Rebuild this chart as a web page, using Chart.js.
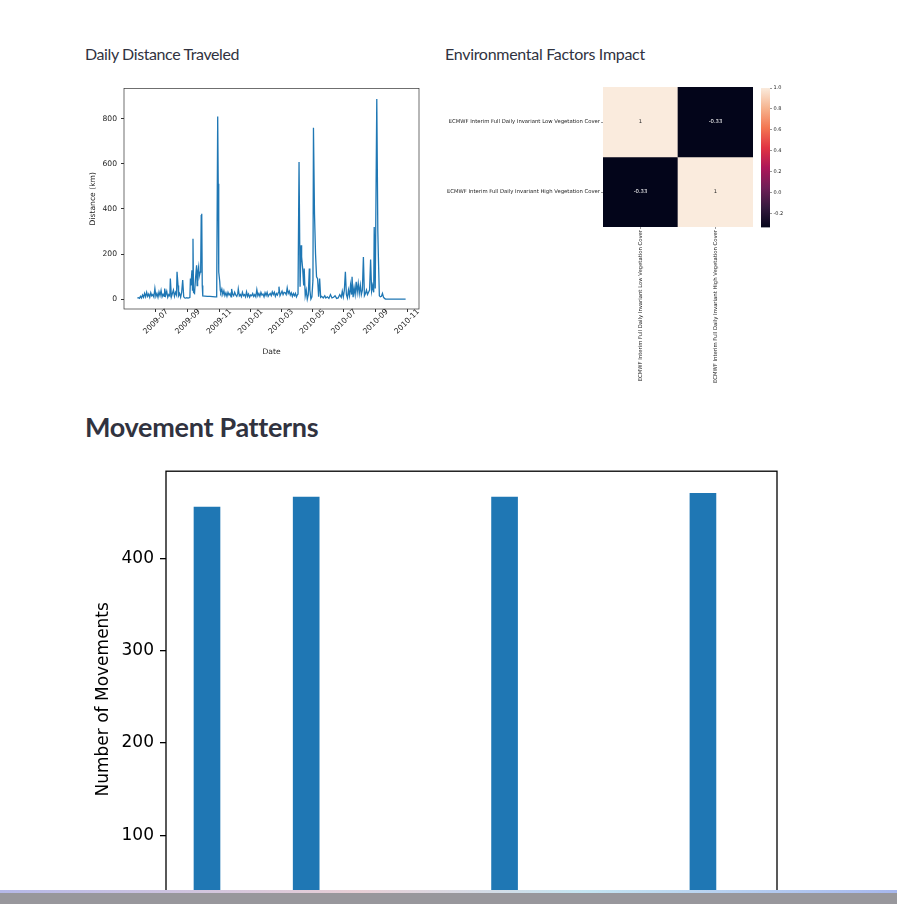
<!DOCTYPE html>
<html lang="en">

<head>
    <meta charset="UTF-8" />
    <meta name="viewport" content="width=device-width, initial-scale=1" />
    <title>Movement Dashboard</title>
    <script src="https://cdn.jsdelivr.net/npm/chart.js"></script>
    <style>
        html, body {
            margin: 0;
            height: 100%;
            overflow: hidden;
            background: #fff;
            font-family: Lato, 'Noto Sans', sans-serif;
            color: #31333F;
        }

        .sub {
            position: absolute;
            top: 44px;
            margin: 0;
            font-size: 16px;
            font-weight: 400;
        }

        #distTitle { left: 85px; letter-spacing: -0.4px; }
        #envTitle { left: 445px; letter-spacing: -0.3px; }

        h3 {
            position: absolute;
            left: 85px;
            top: 410px;
            margin: 0;
            font-size: 27px;
            font-weight: 700;
            letter-spacing: -0.3px;
        }

        .box { position: absolute; }
        #distBox { left: 80px; top: 80px; width: 350px; height: 290px; }
        #heatBox { left: 440px; top: 80px; width: 345px; height: 310px; }
        #cbarBox { left: 752px; top: 80px; width: 50px; height: 160px; }
        #moveBox { left: 85px; top: 455px; width: 730px; height: 520px; }

        #footer {
            position: fixed;
            left: 0;
            right: 0;
            bottom: 0;
            height: 14px;
            background: #98979c;
            z-index: 5;
        }

        #footer::before {
            content: '';
            position: absolute;
            top: 0;
            left: 0;
            right: 0;
            height: 3px;
            background: linear-gradient(90deg, #b5b8e8, #e8cfd6 40%, #c4e5f2 65%, #a7b7ee);
        }
    </style>
</head>

<body>
    <p class="sub" id="distTitle">Daily Distance Traveled</p>
    <p class="sub" id="envTitle">Environmental Factors Impact</p>
    <div class="box" id="distBox"><canvas id="distChart"></canvas></div>
    <div class="box" id="heatBox"><canvas id="heatChart"></canvas></div>
    <div class="box" id="cbarBox"><canvas id="cbarChart"></canvas></div>
    <h3>Movement Patterns</h3>
    <div class="box" id="moveBox"><canvas id="moveChart"></canvas></div>
    <div id="footer"></div>

    <script>
        // daily distance, days counted from 2009-07-01
        const distanceDays = [
            -36, -34, -32, -30, -28, -26, -24, -22, -20, -18, -16, -14, -12, -10, -8, -6, -4, -2,
            0, 2, 4, 6, 8, 10, 12, 14, 16, 17, 19, 21, 23, 25, 27, 28, 30, 32, 34, 36, 38, 40,
            41, 43, 44, 46, 48, 50, 52, 54, 56, 58, 60, 62, 64, 66, 67, 68, 70, 71, 72, 73, 75,
            77, 79, 80, 81, 83, 84, 86, 87, 88, 89, 90, 91, 95, 100, 105, 110, 115, 118,
            120, 121, 122, 124, 125, 126, 128, 130, 132, 134, 136, 138, 140, 142, 144, 146, 147,
            149, 151, 153, 155, 157, 159, 160, 162, 164, 166, 168, 170, 172, 174, 176, 178, 180,
            182, 184, 186, 188, 190, 192, 194, 196, 198, 200, 202, 204, 206, 208, 210, 212, 214,
            216, 218, 220, 222, 224, 226, 228, 230, 232, 234, 236, 238, 239, 241, 243, 245, 247,
            249, 251, 253, 255, 257, 259, 261, 263, 265, 267, 269, 271, 273, 275, 276, 278, 280,
            282, 283, 285, 287, 288, 290, 292, 294, 296, 298, 299, 301, 303, 305, 306, 308, 310,
            312, 314, 316, 318, 320, 322, 325, 328, 330, 333, 336, 339, 342, 345, 348, 351, 354,
            357, 360, 362, 364, 366, 368, 370, 372, 374, 376, 378, 380, 381, 383, 385, 387, 389,
            391, 393, 395, 397, 399, 401, 403, 405, 407, 409, 411, 413, 415, 417, 419, 421, 423,
            424, 426, 429, 431, 432, 434, 436, 438, 440, 442, 444, 446, 485
        ];
        const distanceKm = [
            4, 6, 3, 12, 5, 18, 8, 25, 10, 30, 12, 22, 8, 28, 14, 20, 9, 47,
            12, 25, 8, 32, 15, 38, 10, 22, 12, 47, 18, 35, 8, 20, 14, 91, 10, 25, 40, 12, 30, 18,
            121, 60, 15, 25, 8, 30, 84, 10, 5, 4, 6, 4, 5, 8, 91, 60, 128, 40, 268, 30, 25,
            95, 150, 60, 113, 143, 100, 120, 140, 370, 379, 60, 14, 13, 12, 12, 11, 10, 10,
            810, 512, 120, 77, 40, 30, 45, 20, 37, 15, 28, 12, 30, 18, 25, 10, 45,
            22, 15, 30, 18, 12, 25, 45, 14, 20, 10, 30, 15, 20, 10, 32, 12, 22,
            8, 18, 15, 25, 12, 20, 10, 42, 15, 25, 12, 30, 18, 22, 10, 28, 16,
            30, 12, 20, 25, 15, 32, 20, 30, 12, 25, 18, 30, 55, 15, 25, 35, 20,
            30, 28, 20, 50, 25, 35, 18, 28, 12, 25, 15, 25, 10, 20, 22, 608, 55,
            239, 187, 136, 60, 136, 15, 40, 0, 20, 136, 40, 0, 10, 84, 760, 379, 202,
            99, 91, 10, 91, 8, 12, 5, 15, 5, 10, 3, 20, 5, 8, 15, 3, 5,
            20, 8, 35, 10, 40, 121, 20, 5, 40, 15, 62, 20, 99, 8, 50, 20, 77,
            30, 69, 25, 62, 20, 40, 187, 15, 25, 40, 20, 30, 40, 175, 35, 60, 30,
            320, 47, 888, 305, 198, 15, 10, 12, 25, 8, 3, 0, 0
        ];
        const dateTickLabels = ['2009-07', '2009-09', '2009-11', '2010-01', '2010-03', '2010-05', '2010-07', '2010-09', '2010-11'];
        const distanceTicks = [0, 200, 400, 600, 800];

        const vegFactors = [
            'ECMWF Interim Full Daily Invariant Low Vegetation Cover',
            'ECMWF Interim Full Daily Invariant High Vegetation Cover'
        ];
        const corrLow = [1, -0.33];
        const corrHigh = [-0.33, 1];
        const colorbarTicks = [-0.2, 0.0, 0.2, 0.4, 0.6, 0.8, 1.0];

        const movementSlots = [0, 3, 9, 15];
        const movementCounts = [456, 467, 467, 471];
        const movementTicks = [0, 100, 200, 300, 400];

        const BLUE = '#1f77b4';
        const MPL_FONT = "'DejaVu Sans', sans-serif";
        const HEAT_FONT = 5.3;

        function dayOf(label) {
            const [y, m] = label.split('-').map(Number);
            return (Date.UTC(y, m - 1, 1) - Date.UTC(2009, 6, 1)) / 864e5;
        }

        // seaborn "rocket" colormap
        const rocketStops = [
            [0, [3, 5, 26]], [0.143, [53, 25, 62]], [0.286, [112, 31, 87]], [0.429, [173, 23, 89]],
            [0.571, [225, 51, 66]], [0.714, [243, 118, 81]], [0.857, [246, 180, 143]], [1, [250, 235, 221]]
        ];

        function rocket(t) {
            t = Math.max(0, Math.min(1, t));
            for (let i = 1; i < rocketStops.length; i++) {
                const [t1, c1] = rocketStops[i];
                const [t0, c0] = rocketStops[i - 1];
                if (t <= t1) {
                    const f = (t - t0) / (t1 - t0);
                    const c = c0.map((v, k) => Math.round(v + (c1[k] - v) * f));
                    return `rgb(${c[0]},${c[1]},${c[2]})`;
                }
            }
        }

        const corrRows = [corrLow, corrHigh];
        const corrMin = Math.min(...corrLow, ...corrHigh);
        const corrMax = Math.max(...corrLow, ...corrHigh);
        const corrColor = v => rocket((v - corrMin) / (corrMax - corrMin));

        // axes box like matplotlib spines
        const frame = {
            id: 'frame',
            afterDraw(chart, args, opts) {
                const { ctx, chartArea: a } = chart;
                ctx.save();
                ctx.strokeStyle = opts.color || '#000';
                ctx.lineWidth = opts.width || 1;
                ctx.strokeRect(a.left, a.top, a.right - a.left, a.bottom - a.top);
                ctx.restore();
            }
        };

        // rotated date labels centred on their ticks
        const centeredDates = {
            id: 'centeredDates',
            afterDraw(chart) {
                const s = chart.scales.x;
                const ctx = chart.ctx;
                ctx.save();
                ctx.font = `7.6px ${MPL_FONT}`;
                ctx.fillStyle = '#222';
                ctx.textAlign = 'center';
                ctx.textBaseline = 'middle';
                s.ticks.forEach((t, i) => {
                    ctx.save();
                    ctx.translate(s.getPixelForValue(t.value), s.top + 12.7);
                    ctx.rotate(-Math.PI / 4);
                    ctx.fillText(dateTickLabels[i], 0, 0);
                    ctx.restore();
                });
                ctx.restore();
            }
        };

        // numbers written in the heatmap cells
        const cellText = {
            id: 'cellText',
            afterDatasetsDraw(chart) {
                const ctx = chart.ctx;
                ctx.save();
                ctx.font = `${HEAT_FONT}px ${MPL_FONT}`;
                ctx.textAlign = 'center';
                ctx.textBaseline = 'middle';
                chart.data.datasets.forEach((ds, di) => {
                    chart.getDatasetMeta(di).data.forEach((el, i) => {
                        const v = ds.corr[i];
                        ctx.fillStyle = v > 0.3 ? '#262626' : '#fff';
                        ctx.fillText(String(v), el.x, (el.y + el.base) / 2);
                    });
                });
                ctx.restore();
            }
        };

        Chart.defaults.animation = false;
        Chart.defaults.plugins.legend.display = false;
        Chart.defaults.plugins.tooltip.enabled = false;

        // daily distance line
        new Chart(document.getElementById('distChart'), {
            type: 'line',
            data: {
                datasets: [{
                    data: distanceDays.map((d, i) => ({ x: d, y: distanceKm[i] })),
                    borderColor: BLUE,
                    borderWidth: 1.3,
                    pointRadius: 0,
                    tension: 0
                }]
            },
            options: {
                responsive: true,
                maintainAspectRatio: false,
                layout: { padding: { top: 8, right: 11, left: 0, bottom: 0 } },
                scales: {
                    x: {
                        type: 'linear',
                        min: -62,
                        max: 511,
                        afterBuildTicks: s => { s.ticks = dateTickLabels.map(l => ({ value: dayOf(l) })); },
                        afterFit: s => { s.height = 61; },
                        ticks: { display: false },
                        grid: { drawOnChartArea: false, tickLength: 3, color: '#333' },
                        border: { display: false },
                        title: {
                            display: true, text: 'Date', color: '#222',
                            font: { family: MPL_FONT, size: 7.6 }, padding: { top: 0, bottom: 13 }
                        }
                    },
                    y: {
                        min: -44,
                        max: 934,
                        afterBuildTicks: s => { s.ticks = distanceTicks.map(v => ({ value: v })); },
                        afterFit: s => { s.width = 44; },
                        ticks: { color: '#222', font: { family: MPL_FONT, size: 7.6 }, padding: 4, autoSkip: false },
                        grid: { drawOnChartArea: false, tickLength: 3, color: '#333' },
                        border: { display: false },
                        title: {
                            display: true, text: 'Distance (km)', color: '#222',
                            font: { family: MPL_FONT, size: 7.6 }, padding: { top: 8.5, bottom: 0 }
                        }
                    }
                },
                plugins: { frame: { color: '#333', width: 0.7 } }
            },
            plugins: [frame, centeredDates]
        });

        // correlation heatmap drawn as floating bars, one dataset per row
        new Chart(document.getElementById('heatChart'), {
            type: 'bar',
            data: {
                labels: vegFactors,
                datasets: corrRows.map((row, r) => ({
                    data: row.map(() => [r, r + 1]),
                    corr: row,
                    backgroundColor: row.map(corrColor),
                    borderWidth: 0,
                    barPercentage: 1,
                    categoryPercentage: 1,
                    grouped: false
                }))
            },
            options: {
                responsive: true,
                maintainAspectRatio: false,
                layout: { padding: { top: 7, right: 32, left: 0, bottom: 0 } },
                scales: {
                    x: {
                        afterFit: s => { s.height = 163; },
                        ticks: {
                            color: '#222', font: { family: MPL_FONT, size: HEAT_FONT },
                            minRotation: 90, maxRotation: 90, autoSkip: false, padding: 1
                        },
                        grid: { drawOnChartArea: false, offset: false, tickLength: 2, color: '#333', lineWidth: 0.5 },
                        border: { display: false }
                    },
                    y: {
                        min: 0,
                        max: 2,
                        reverse: true,
                        afterBuildTicks: s => { s.ticks = vegFactors.map((_, i) => ({ value: i + 0.5 })); },
                        afterFit: s => { s.width = 163; },
                        ticks: {
                            callback: (v, i) => vegFactors[i],
                            color: '#222', font: { family: MPL_FONT, size: HEAT_FONT }, padding: 1, autoSkip: false
                        },
                        grid: { drawOnChartArea: false, tickLength: 2, color: '#333', lineWidth: 0.5 },
                        border: { display: false }
                    }
                }
            },
            plugins: [cellText]
        });

        // colour bar for the heatmap
        new Chart(document.getElementById('cbarChart'), {
            type: 'bar',
            data: {
                labels: [''],
                datasets: [{
                    data: [[corrMin, corrMax]],
                    borderWidth: 0,
                    barPercentage: 1,
                    categoryPercentage: 1,
                    backgroundColor: c => {
                        const a = c.chart.chartArea;
                        if (!a) return null;
                        const g = c.chart.ctx.createLinearGradient(0, a.bottom, 0, a.top);
                        rocketStops.forEach(([t, rgb]) => g.addColorStop(t, `rgb(${rgb.join(',')})`));
                        return g;
                    }
                }]
            },
            options: {
                responsive: true,
                maintainAspectRatio: false,
                layout: { padding: { top: 8, left: 9, right: 0, bottom: 12.5 } },
                scales: {
                    x: { display: false },
                    y: {
                        position: 'right',
                        min: corrMin,
                        max: corrMax,
                        afterBuildTicks: s => { s.ticks = colorbarTicks.map(v => ({ value: v })); },
                        afterFit: s => { s.width = 32; },
                        ticks: {
                            callback: v => v.toFixed(1),
                            color: '#222', font: { family: MPL_FONT, size: 5 }, padding: 1.5, autoSkip: false
                        },
                        grid: { drawOnChartArea: false, tickLength: 2, color: '#333', lineWidth: 0.5 },
                        border: { display: false }
                    }
                }
            }
        });

        // movement patterns bars
        new Chart(document.getElementById('moveChart'), {
            type: 'bar',
            data: {
                datasets: [{
                    data: movementSlots.map((s, i) => ({ x: s, y: movementCounts[i] })),
                    backgroundColor: BLUE,
                    barThickness: 26
                }]
            },
            options: {
                responsive: true,
                maintainAspectRatio: false,
                layout: { padding: { top: 16, right: 38, left: 0, bottom: 0 } },
                scales: {
                    x: {
                        type: 'linear',
                        offset: false,
                        min: -1.24,
                        max: 17.24,
                        afterFit: s => { s.height = 47.6; },
                        ticks: { display: false },
                        grid: { display: false, offset: false },
                        border: { display: false }
                    },
                    y: {
                        min: 0,
                        max: 495,
                        afterBuildTicks: s => { s.ticks = movementTicks.map(v => ({ value: v })); },
                        afterFit: s => { s.width = 81; },
                        ticks: { color: '#000', font: { family: MPL_FONT, size: 17 }, padding: 6, autoSkip: false },
                        grid: { drawOnChartArea: false, tickLength: 6, color: '#000', lineWidth: 1.3 },
                        border: { display: false },
                        title: {
                            display: true, text: 'Number of Movements', color: '#000',
                            font: { family: MPL_FONT, size: 17 }, padding: { top: 8.8, bottom: 0 }
                        }
                    }
                },
                plugins: { frame: { color: '#000', width: 1.3 } }
            },
            plugins: [frame]
        });
    </script>
</body>

</html>
